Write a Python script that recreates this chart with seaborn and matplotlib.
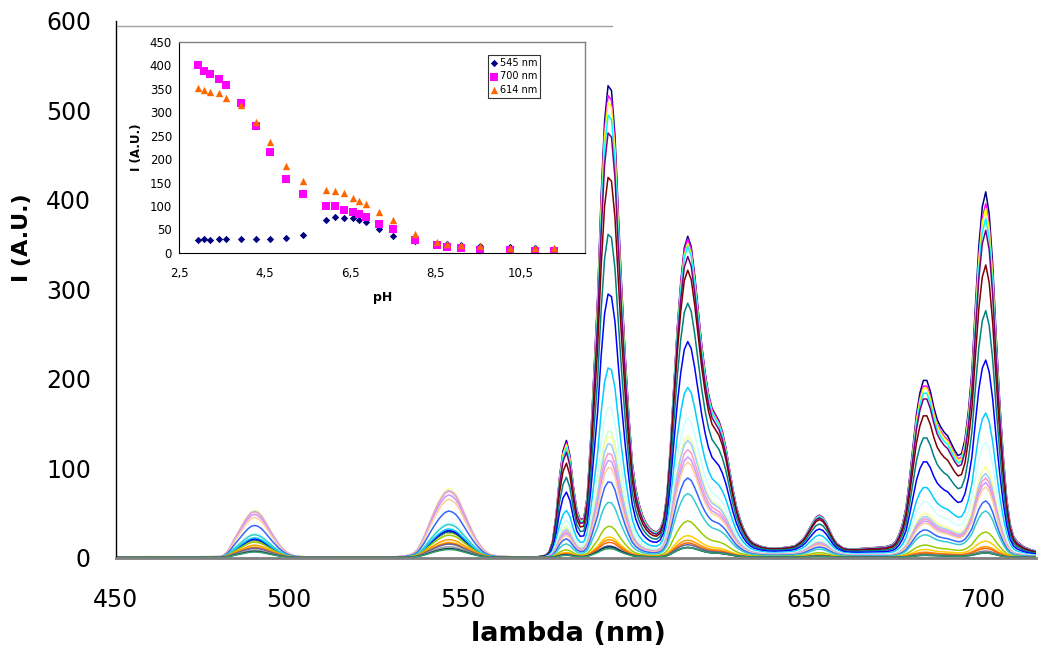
import numpy as np
import pandas as pd
import seaborn as sns
import matplotlib
matplotlib.use('Agg')
import matplotlib.pyplot as plt
from matplotlib.lines import Line2D

# pH of each measured solution (one spectrum per pH)
ph = [2.94, 3.09, 3.23, 3.44, 3.60, 3.94, 4.29, 4.63, 5.01, 5.39, 5.94, 6.15, 6.36,
      6.57, 6.72, 6.87, 7.18, 7.50, 8.03, 8.53, 8.78, 9.10, 9.55, 10.24, 10.82, 11.28]

# intensities
i545 = [28, 30, 28, 29, 29, 30, 29, 30, 32, 39, 70, 77, 75, 74, 70, 65, 52, 37, 25, 17, 20, 16, 15, 12, 10, 9]
i700 = [400, 387, 382, 371, 358, 320, 270, 216, 158, 126, 99, 99, 92, 87, 82, 77, 62, 51, 28, 18, 12, 10, 7, 6, 5, 5]
i614 = [351, 348, 343, 340, 329, 314, 278, 236, 186, 153, 133, 132, 128, 118, 110, 104, 87, 70, 40, 24, 19, 16, 14, 11, 11, 11]
# height of the 592 nm band in the main plot
i592 = [530, 519, 511, 497, 477, 427, 363, 296, 213, 169, 142, 136, 128, 117, 109, 101, 85, 62, 35, 23, 20, 17, 13, 12, 12, 10]

# band shapes (relative to the intensities above)
tb_shape = {450: 0.01, 460: 0.012, 470: 0.01, 476: 0.012, 478: 0.012, 480: 0.015, 481: 0.03, 482: 0.08,
            483: 0.16, 484: 0.26, 485: 0.35, 486: 0.44, 487: 0.53, 488: 0.61, 489: 0.67, 490: 0.69,
            491: 0.67, 492: 0.62, 493: 0.54, 494: 0.45, 495: 0.36, 496: 0.28, 497: 0.2, 498: 0.14,
            499: 0.09, 500: 0.055, 501: 0.035, 502: 0.02, 504: 0.012, 508: 0.01, 515: 0.01, 522: 0.01,
            528: 0.01, 531: 0.012, 533: 0.02, 534: 0.03, 535: 0.045, 536: 0.07, 537: 0.12, 538: 0.21,
            539: 0.32, 540: 0.45, 541: 0.58, 542: 0.7, 543: 0.81, 544: 0.9, 545: 0.97, 546: 1.0,
            547: 0.98, 548: 0.93, 549: 0.84, 550: 0.72, 551: 0.6, 552: 0.48, 553: 0.37, 554: 0.27,
            555: 0.19, 556: 0.12, 557: 0.075, 558: 0.045, 560: 0.02, 564: 0.012, 568: 0.01}
eu592_shape = {570: 0, 571: 0, 572: 0.002, 573: 0.003, 574: 0.005, 575: 0.012, 576: 0.035, 577: 0.09,
               578: 0.17, 579: 0.225, 580: 0.247, 581: 0.215, 582: 0.15, 583: 0.1, 584: 0.08, 585: 0.082,
               586: 0.13, 587: 0.25, 588: 0.4, 589: 0.55, 590: 0.76, 591: 0.92, 592: 0.995, 593: 0.985,
               594: 0.89, 595: 0.72, 596: 0.56, 597: 0.42, 598: 0.3, 599: 0.2, 600: 0.145, 601: 0.11,
               602: 0.085, 603: 0.068, 604: 0.055, 605: 0.045, 606: 0.036, 607: 0.03, 608: 0.024,
               609: 0.02, 610: 0.016, 611: 0.012, 612: 0.009, 613: 0.006, 614: 0.004, 615: 0.002, 616: 0}
eu614_shape = {600: 0, 601: 0.002, 602: 0.004, 603: 0.007, 604: 0.011, 605: 0.017, 606: 0.027, 607: 0.045,
               608: 0.085, 609: 0.17, 610: 0.33, 611: 0.53, 612: 0.72, 613: 0.87, 614: 0.98, 615: 1.02,
               616: 0.99, 617: 0.9, 618: 0.79, 619: 0.68, 620: 0.59, 621: 0.52, 622: 0.475, 623: 0.455,
               624: 0.435, 625: 0.4, 626: 0.35, 627: 0.285, 628: 0.22, 629: 0.165, 630: 0.125, 631: 0.095,
               632: 0.072, 633: 0.056, 634: 0.046, 636: 0.036, 638: 0.031, 640: 0.03, 642: 0.031,
               644: 0.033, 646: 0.038, 648: 0.055, 649: 0.07, 650: 0.09, 651: 0.11, 652: 0.128, 653: 0.135,
               654: 0.128, 655: 0.11, 656: 0.085, 657: 0.062, 658: 0.045, 660: 0.026, 662: 0.018,
               664: 0.013, 666: 0.009, 668: 0.006, 670: 0.003, 672: 0}
eu700_shape = {660: 0.003, 662: 0.008, 664: 0.013, 666: 0.018, 668: 0.022, 670: 0.026, 672: 0.03,
               674: 0.036, 675: 0.045, 676: 0.065, 677: 0.095, 678: 0.14, 679: 0.22, 680: 0.31, 681: 0.4,
               682: 0.46, 683: 0.495, 684: 0.495, 685: 0.465, 686: 0.42, 687: 0.385, 688: 0.365,
               689: 0.35, 690: 0.34, 691: 0.32, 692: 0.3, 693: 0.285, 694: 0.29, 695: 0.33, 696: 0.41,
               697: 0.52, 698: 0.7, 699: 0.87, 700: 0.98, 701: 1.022, 702: 0.96, 703: 0.82, 704: 0.62,
               705: 0.44, 706: 0.29, 707: 0.17, 708: 0.095, 709: 0.06, 710: 0.045, 712: 0.03, 714: 0.022,
               716: 0.017, 718: 0.015}

# excel 2003 series colours, in series order
colors = ['#000080', '#FF00FF', '#FFFF00', '#00FFFF', '#800080', '#800000', '#008080', '#0000FF',
          '#00CCFF', '#CCFFFF', '#CCFFCC', '#FFFF99', '#99CCFF', '#FF99CC', '#CC99FF', '#FFCC99',
          '#3366FF', '#33CCCC', '#99CC00', '#FFCC00', '#FF9900', '#FF6600', '#666699', '#969696',
          '#003366', '#339966']

sns.set_style('white')
plt.rcParams['font.family'] = ['DejaVu Sans']
plt.rcParams.update({'text.color': 'black', 'axes.labelcolor': 'black',
                     'xtick.color': 'black', 'ytick.color': 'black'})

# building spectra table
shapes = pd.DataFrame({'tb': pd.Series(tb_shape), 'e592': pd.Series(eu592_shape),
                       'e614': pd.Series(eu614_shape), 'e700': pd.Series(eu700_shape)}).sort_index().fillna(0)
frames = []
for k in range(len(ph)):
    inten = (i545[k] * shapes['tb'] + i592[k] * shapes['e592']
             + i614[k] * shapes['e614'] + i700[k] * shapes['e700'])
    frames.append(pd.DataFrame({'wl': shapes.index, 'I': inten.values, 'curve': 'pH %.2f' % ph[k]}))
spec = pd.concat(frames, ignore_index=True)
order = ['pH %.2f' % p for p in ph]

fig = plt.figure(figsize=(10.41, 6.53), dpi=100)
ax = fig.add_axes([0.1114, 0.1462, 0.8838, 0.822])
sns.lineplot(data=spec, x='wl', y='I', hue='curve', hue_order=order, palette=colors,
             estimator=None, legend=False, linewidth=1.1, ax=ax)
ax.set_xlim(450, 715.5)
ax.set_ylim(0, 600)
ax.set_xticks(range(450, 701, 50))
ax.set_yticks(range(0, 601, 100))
for s in ['top', 'right']:
    ax.spines[s].set_visible(False)
ax.spines['left'].set_color('black')
ax.spines['left'].set_linewidth(1)
ax.spines['bottom'].set_color('#808080')
ax.spines['bottom'].set_linewidth(2)
ax.tick_params(axis='both', direction='out', length=7, width=1, color='black', labelsize=17)
ax.tick_params(axis='x', pad=15)
ax.tick_params(axis='y', pad=11)
ax.set_xlabel('lambda (nm)', fontsize=19.5, fontweight='bold')
ax.set_ylabel('I (A.U.)', fontsize=16, fontweight='bold')
ax.xaxis.set_label_coords(0.492, -0.118)
ax.yaxis.set_label_coords(-0.0913, 0.595)

# thin grey border line on top of the inset chart object
fig.add_artist(Line2D([0.1124, 0.588], [0.9602, 0.9602], color='#a0a0a0', linewidth=1))

# inset: intensity vs pH
ins = fig.add_axes([0.172, 0.6126, 0.390, 0.3237])
ins.set_facecolor('white')
sns.scatterplot(x=ph, y=i545, marker='D', color='#000080', s=14, linewidth=0, label='545 nm', ax=ins)
sns.scatterplot(x=ph, y=i700, marker='s', color='#FF00FF', s=26, linewidth=0, label='700 nm', ax=ins)
sns.scatterplot(x=ph, y=i614, marker='^', color='#FF6600', s=28, linewidth=0, label='614 nm', ax=ins)
ins.set_xlim(2.5, 12)
ins.set_ylim(0, 450)
ins.set_xticks([2.5, 4.5, 6.5, 8.5, 10.5])
ins.set_xticklabels(['2,5', '4,5', '6,5', '8,5', '10,5'])
ins.set_yticks(range(0, 451, 50))
ins.tick_params(axis='both', direction='out', length=3, width=0.8, labelsize=8.5, pad=2)
ins.tick_params(axis='x', pad=7)
for s in ['left', 'bottom']:
    ins.spines[s].set_color('black')
    ins.spines[s].set_linewidth(0.8)
for s in ['top', 'right']:
    ins.spines[s].set_color('#808080')
    ins.spines[s].set_linewidth(1)
ins.set_xlabel('pH', fontsize=9, fontweight='bold')
ins.set_ylabel('I (A.U.)', fontsize=8.5, fontweight='bold')
ins.xaxis.set_label_coords(0.501, -0.18)
ins.yaxis.set_label_coords(-0.089, 0.5)
leg = ins.legend(loc='upper left', bbox_to_anchor=(0.761, 0.937), fontsize=7, frameon=True,
                 fancybox=False, edgecolor='black', handlelength=0.7, handletextpad=0.2,
                 borderpad=0.3, labelspacing=0.35, borderaxespad=0)
leg.get_frame().set_linewidth(0.8)

plt.savefig('out.png', dpi=100)
